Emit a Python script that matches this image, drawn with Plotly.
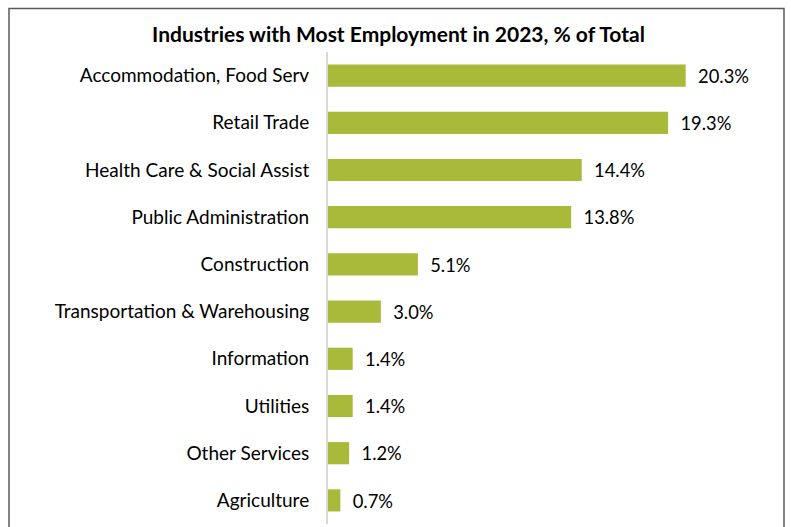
import plotly.graph_objects as go

categories = ["Accommodation, Food Serv", "Retail Trade", "Health Care & Social Assist",
              "Public Administration", "Construction", "Transportation & Warehousing",
              "Information", "Utilities", "Other Services", "Agriculture"]
values = [20.3, 19.3, 14.4, 13.8, 5.1, 3.0, 1.4, 1.4, 1.2, 0.7]
labels = ["20.3%", "19.3%", "14.4%", "13.8%", "5.1%", "3.0%", "1.4%", "1.4%", "1.2%", "0.7%"]

W, H = 791, 527
L, R, T, B = 328, 21, 52, 3
pw = W - L - R
ph = H - T - B
px_per = 17.62
xmax = pw / px_per

fig = go.Figure(go.Bar(
    y=categories, x=values, orientation="h",
    marker=dict(color="#A9B93A", line=dict(width=0)),
    width=0.47,
    text=["  " + s for s in labels], textposition="outside",
    textfont=dict(family="Lato", size=19, color="#000000"),
    cliponaxis=False,
))

def px2x(p):
    return (p - L) / pw

def py2y(p):
    return 1 - (p - T) / ph

fig.add_shape(type="rect", xref="paper", yref="paper",
              x0=px2x(9), x1=px2x(784), y0=py2y(540), y1=py2y(8.5),
              line=dict(color="#595959", width=1.5), fillcolor="rgba(0,0,0,0)", layer="above")

fig.update_layout(
    width=W, height=H,
    margin=dict(l=L, r=R, t=T, b=B, autoexpand=False),
    paper_bgcolor="white", plot_bgcolor="white",
    bargap=0.53,
    showlegend=False,
    title=dict(text="<b>Industries with Most Employment in 2023, % of Total</b>",
               x=398.5 / W, xref="container", xanchor="center",
               y=1 - 35 / H, yref="container", yanchor="middle",
               font=dict(family="Lato", size=21, color="#000000")),
    xaxis=dict(range=[0, xmax], showgrid=False, zeroline=False, showticklabels=False,
               showline=False, ticks=""),
    yaxis=dict(autorange="reversed", showgrid=False, zeroline=False,
               showline=True, linecolor="#D9D9D9", linewidth=2,
               ticks="", ticklabelstandoff=13,
               tickfont=dict(family="Lato", size=19, color="#000000")),
    font=dict(family="Lato"),
)

fig.write_html("out.html", config={"displayModeBar": False},
               post_script="document.body.style.margin='0';")
